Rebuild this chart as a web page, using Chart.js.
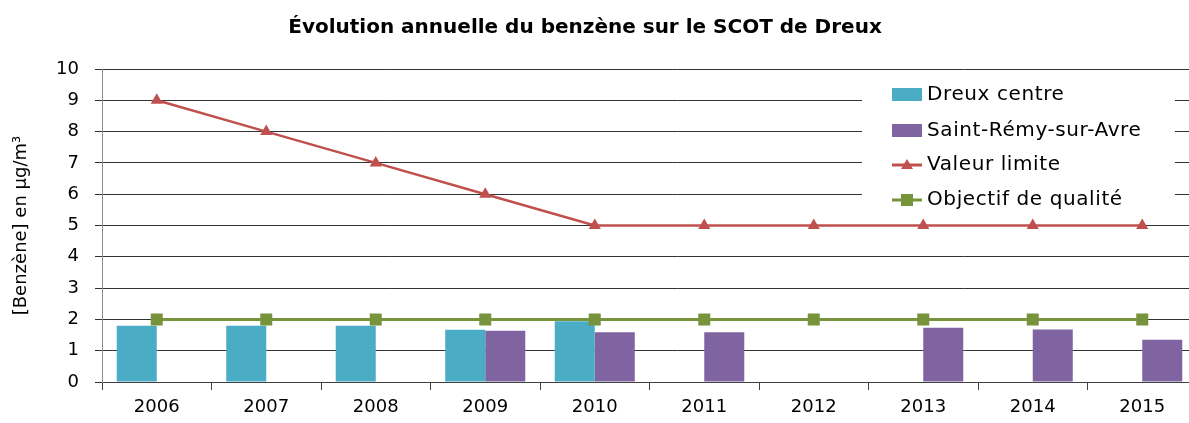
<!DOCTYPE html>
<html>
<head>
<meta charset="utf-8">
<script src="https://cdn.jsdelivr.net/npm/chart.js@4.4.1/dist/chart.umd.min.js"></script>
<style>
  html, body { margin: 0; padding: 0; overflow: hidden; background: #fff; }
  #wrap { position: relative; width: 1260px; height: 423px; }
</style>
</head>
<body>
<div id="wrap"><canvas id="c"></canvas></div>
<script>
const chartTitle = 'Évolution annuelle du benzène sur le SCOT de Dreux';
const yAxisTitle = '[Benzène] en µg/m³';
const years = ['2006','2007','2008','2009','2010','2011','2012','2013','2014','2015'];
const dreuxCentre = [1.8, 1.8, 1.8, 1.67, 1.94, null, null, null, null, null];
const saintRemy = [null, null, null, 1.64, 1.59, 1.59, null, 1.73, 1.68, 1.35];
const valeurLimite = [9, 8, 7, 6, 5, 5, 5, 5, 5, 5];
const objectifQualite = [2, 2, 2, 2, 2, 2, 2, 2, 2, 2];
const yTicks = [0,1,2,3,4,5,6,7,8,9,10];

const FONT = '"DejaVu Sans", "Noto Sans", sans-serif';
const CATEGORY_PX = 109.5; // the reference plot runs past the right edge of the picture

const titlePlugin = {
  id: 'customTitle',
  afterDraw(chart) {
    const ctx = chart.ctx;
    ctx.save();
    ctx.font = 'bold 20px ' + FONT;
    ctx.fillStyle = '#000';
    ctx.textAlign = 'center';
    ctx.textBaseline = 'middle';
    ctx.fillText(chartTitle, 585, 28);
    ctx.restore();
  }
};

const legendPlugin = {
  id: 'boxLegend',
  afterDatasetsDraw(chart) {
    const ctx = chart.ctx;
    ctx.save();
    ctx.fillStyle = '#fff';
    ctx.fillRect(862, 77, 313, 138);
    const rows = [95, 131, 165, 200];
    chart.data.datasets.forEach((ds, i) => {
      const y = rows[i];
      if (ds.type === 'bar') {
        ctx.fillStyle = ds.backgroundColor;
        ctx.fillRect(892, y - 7, 30, 13);
      } else {
        ctx.strokeStyle = ds.borderColor;
        ctx.lineWidth = 3;
        ctx.beginPath();
        ctx.moveTo(892, y);
        ctx.lineTo(922, y);
        ctx.stroke();
        ctx.fillStyle = ds.pointBackgroundColor;
        if (ds.pointStyle === 'triangle') {
          ctx.beginPath();
          ctx.moveTo(907, y - 6);
          ctx.lineTo(913, y + 4);
          ctx.lineTo(901, y + 4);
          ctx.closePath();
          ctx.fill();
        } else {
          ctx.fillRect(901, y - 6, 12, 12);
        }
      }
      ctx.fillStyle = '#000';
      ctx.font = '20px ' + FONT;
      if ('letterSpacing' in ctx) ctx.letterSpacing = '0.6px';
      ctx.textAlign = 'left';
      ctx.textBaseline = 'middle';
      ctx.fillText(ds.label, 927, y);
      if ('letterSpacing' in ctx) ctx.letterSpacing = '0px';
    });
    ctx.restore();
  }
};

new Chart(document.getElementById('c'), {
  data: {
    labels: years,
    datasets: [
      { type: 'bar', label: 'Dreux centre', data: dreuxCentre, backgroundColor: '#4BACC6', order: 2,
        categoryPercentage: 0.731, barPercentage: 1.0 },
      { type: 'bar', label: 'Saint-Rémy-sur-Avre', data: saintRemy, backgroundColor: '#8064A2', order: 2,
        categoryPercentage: 0.731, barPercentage: 1.0 },
      { type: 'line', label: 'Valeur limite', data: valeurLimite, borderColor: '#C0504D', borderWidth: 2.5,
        pointStyle: 'triangle', pointRadius: 7, pointBackgroundColor: '#C0504D', pointBorderColor: '#C0504D',
        pointBorderWidth: 0, order: 1, tension: 0 },
      { type: 'line', label: 'Objectif de qualité', data: objectifQualite, borderColor: '#77933C', borderWidth: 3,
        pointStyle: 'rect', pointRadius: 8.5, pointBackgroundColor: '#77933C', pointBorderColor: '#77933C',
        pointBorderWidth: 0, order: 1, tension: 0 }
    ]
  },
  plugins: [legendPlugin, titlePlugin],
  options: {
    responsive: true,
    maintainAspectRatio: false,
    devicePixelRatio: 1,
    animation: false,
    layout: { padding: { top: 69, left: 0, right: 0, bottom: 0 } },
    plugins: { legend: { display: false }, title: { display: false }, tooltip: { enabled: false } },
    scales: {
      x: {
        offset: true,
        grid: { offset: true, drawOnChartArea: false, drawTicks: true, tickLength: 8, color: '#404040' },
        border: { color: '#404040' },
        ticks: { color: '#000', font: { family: FONT, size: 18 }, padding: 7, maxRotation: 0 },
        afterFit(s) { s.height = 41; },
        afterUpdate(s) {
          const len = s.right - s.left;
          if (len > 0) s._valueRange = len / CATEGORY_PX;
        }
      },
      y: {
        min: 0, max: 10,
        afterBuildTicks(s) { s.ticks = yTicks.map(v => ({ value: v })); },
        grid: { color: '#333333', tickLength: 7, drawTicks: true },
        border: { color: '#8c8c8c' },
        ticks: { color: '#000', font: { family: FONT, size: 18 }, padding: 16 },
        title: { display: true, text: yAxisTitle, color: '#000', font: { family: FONT, size: 18 }, padding: { top: 11, bottom: 0 } },
        afterFit(s) { s.width = 102; }
      }
    }
  }
});
</script>
</body>
</html>
